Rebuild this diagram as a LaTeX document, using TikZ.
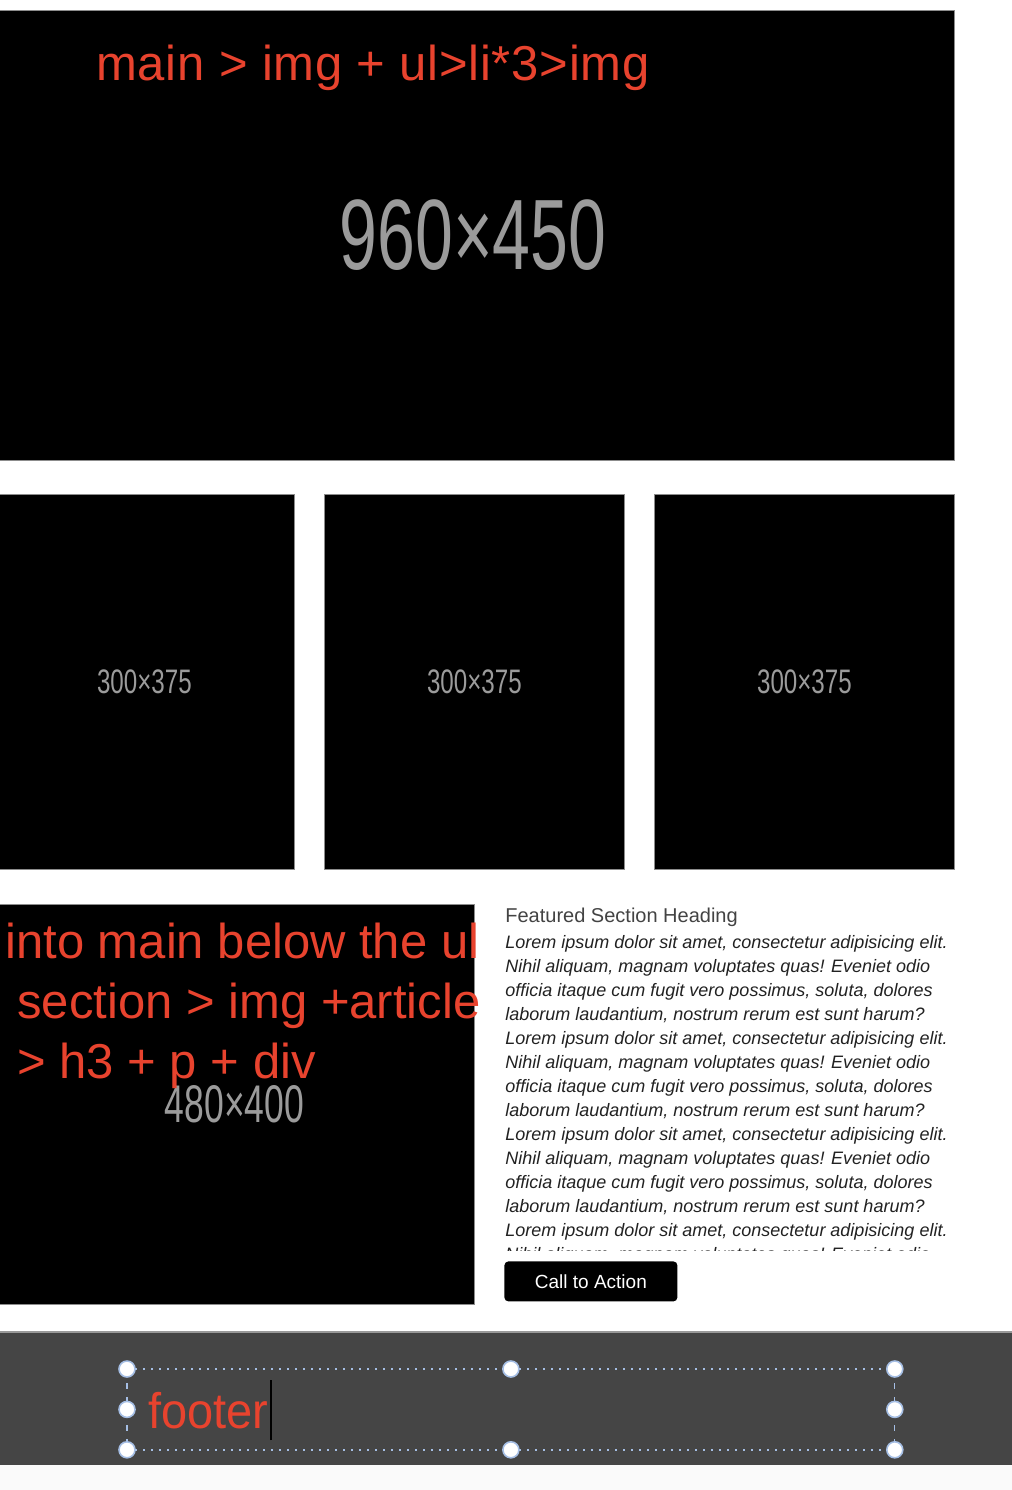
\documentclass[tikz,border=0pt]{standalone}
\usepackage{fontspec}
\setmainfont{Liberation Sans}
\usepackage{tikz}
\usetikzlibrary{positioning}
\definecolor{mockred}{RGB}{232,67,46}
\definecolor{dimgray}{RGB}{155,155,155}
\definecolor{footgray}{RGB}{69,69,69}
\definecolor{selblue}{RGB}{165,190,228}
\definecolor{bodytext}{RGB}{34,34,34}
\def\pA{Lorem ipsum dolor sit amet, consectetur adipisicing elit.}
\def\pB{Nihil aliquam, magnam voluptates quas! Eveniet odio}
\def\pC{officia itaque cum fugit vero possimus, soluta, dolores}
\def\pD{laborum laudantium, nostrum rerum est sunt harum?}

\begin{document}
\begin{tikzpicture}[x=0.5pt, y=-0.5pt,
  img/.style={draw=black!45, line width=0.4pt, fill=black, inner sep=0pt, anchor=north west},
  dim/.style={text=dimgray, inner sep=0pt},
  note/.style={text=mockred, font=\fontsize{24.5}{30}\selectfont, inner sep=0pt, anchor=base west},
  parline/.style={text=bodytext, font=\fontsize{9}{12}\selectfont\itshape, inner sep=0pt, anchor=base west},
  handle/.style={circle, fill=white, draw=selblue, line width=0.8pt, minimum size=8pt, inner sep=0pt}]
\useasboundingbox (0,0) rectangle (1012,1490);
\clip (0,0) rectangle (1012,1490);
\fill[white] (0,0) rectangle (1012,1490);
\fill[black!2] (0,1465) rectangle (1012,1490);
% hero image and thumbnails
\node[img, minimum width=480pt, minimum height=225pt] (hero) at (-6,10) {};
\node[dim] (herodim) at (473,235) {\fontsize{50}{50}\selectfont\scalebox{0.68}[1]{960×450}};
\node[note] (notetop) at (96,80) {\addfontfeatures{LetterSpace=1.5}main > img + ul>li*3>img};
\foreach \x/\n in {-6/1, 324/2, 654/3} {
  \node[img, minimum width=150pt, minimum height=187.5pt] (thumb\n) at (\x,494) {};
  \node[dim] (thumbdim\n) at (thumb\n.center) {\fontsize{17}{17}\selectfont\scalebox{0.71}[1]{300×375}};
}
% section
\node[img, minimum width=240pt, minimum height=200pt] (sectimg) at (-6,904) {};
\node[dim] (sectdim) at (sectimg.center) {\fontsize{26.5}{26.5}\selectfont\scalebox{0.67}[1]{480×400}};
\node[note] (note1) at (5,958) {into main below the ul};
\node[note] (note2) at (17,1018) {section > img +article};
\node[note] (note3) at (17,1078) {> h3 + p + div};
\node[anchor=base west, inner sep=0pt, text=bodytext!85, font=\fontsize{10}{12}\selectfont] (heading) at (505,922) {Featured Section Heading};
\begin{scope}
\clip (495,925) rectangle (970,1250);
\foreach \ln [count=\k from 0] in {\pA,\pB,\pC,\pD,\pA,\pB,\pC,\pD,\pA,\pB,\pC,\pD,\pA,\pB}
  \node[parline] (par\k) at (505,948+24*\k) {\ln};
\end{scope}
\node[fill=black, rounded corners=2pt, anchor=north west, minimum width=86.5pt, minimum height=20pt,
  inner sep=0pt, text=white, font=\fontsize{9.5}{11}\selectfont] (cta) at (504,1261) {Call to Action};
% footer
\node[fill=footgray, anchor=north west, minimum width=506pt, minimum height=66.5pt, inner sep=0pt] (footer) at (0,1332) {};
\draw[black!40, line width=0.6pt] (footer.north west) -- (footer.north east);
\node[anchor=north west, minimum width=383.5pt, minimum height=40pt, inner sep=0pt] (sel) at (127,1369) {};
\draw[selblue, line width=1pt, dash pattern=on 1pt off 3pt] (sel.north west) -- (sel.north east) (sel.south west) -- (sel.south east);
\draw[selblue, line width=0.6pt, dash pattern=on 3pt off 4pt] (sel.north west) -- (sel.south west) (sel.north east) -- (sel.south east);
\foreach \a in {north west, north, north east, west, east, south west, south, south east}
  \node[handle] at (sel.\a) {};
\node[note, font=\fontsize{25}{30}\selectfont] (foottxt) at (148,1428) {\scalebox{0.94}[1]{footer}};
\draw[black, line width=0.6pt] ([xshift=1pt, yshift=-6pt]foottxt.base east) -- ++(0,-60);
\end{tikzpicture}
\end{document}
